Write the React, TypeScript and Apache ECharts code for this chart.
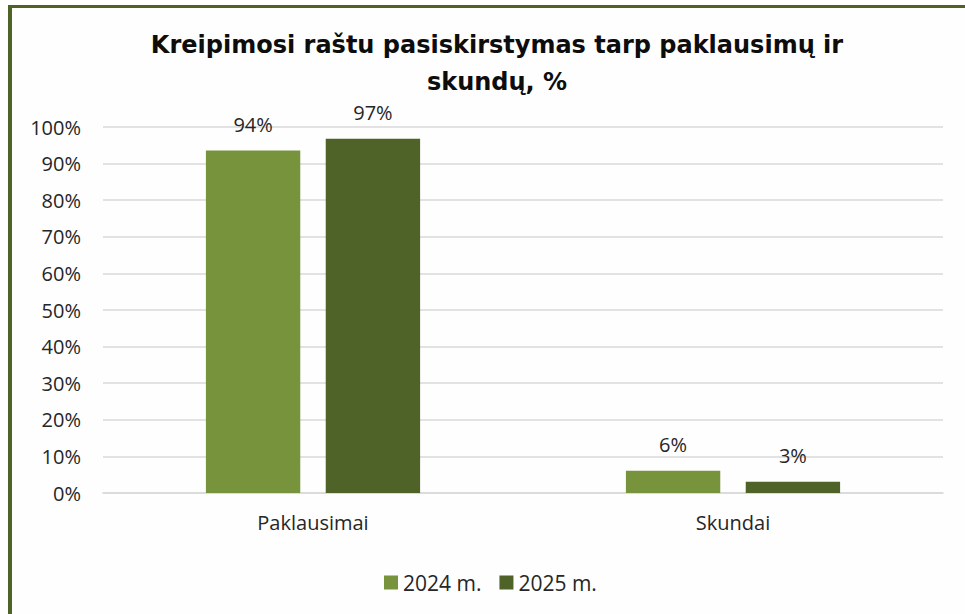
import React, { useEffect, useRef } from "react";
import * as echarts from "echarts";

const categories = ["Paklausimai", "Skundai"];
const series2024 = [93.6, 6.1];
const series2025 = [96.8, 3.1];
const seriesNames = ["2024 m.", "2025 m."];
const yTicks = [0, 10, 20, 30, 40, 50, 60, 70, 80, 90, 100];
const titleText = "Kreipimosi raštu pasiskirstymas tarp paklausimų ir\nskundų, %";

const C2024 = "#77933c";
const C2025 = "#4f6228";
const FONT = "'Open Sans', 'Noto Sans', sans-serif";

export default function App() {
  const ref = useRef<HTMLDivElement>(null);
  useEffect(() => {
    if (!ref.current) return;
    const chart = echarts.init(ref.current, null, { renderer: "svg" });
    const label = {
      show: true,
      position: "top",
      distance: 16,
      formatter: (p: any) => Math.round(p.value) + "%",
      fontFamily: FONT,
      fontSize: 20,
      color: "#262626",
    };
    chart.setOption({
      animation: false,
      backgroundColor: "transparent",
      title: {
        text: titleText,
        left: 492,
        textAlign: "center",
        top: 21,
        textStyle: {
          fontFamily: "'DejaVu Sans', sans-serif",
          fontWeight: "bold",
          fontSize: 24,
          lineHeight: 37,
          color: "#0d0d0d",
        },
      },
      legend: {
        data: seriesNames,
        left: 379,
        top: 567,
        itemWidth: 14,
        itemHeight: 14,
        itemGap: 18,
        icon: "rect",
        textStyle: { fontFamily: FONT, fontSize: 21, color: "#262626" },
      },
      grid: { left: 103, right: 22, top: 127, bottom: 121, containLabel: false },
      xAxis: {
        type: "category",
        data: categories,
        axisLine: { show: true, lineStyle: { color: "#d9d9d9", width: 1.5 } },
        axisTick: { show: false },
        axisLabel: { margin: 19, fontFamily: FONT, fontSize: 20, color: "#262626" },
      },
      yAxis: {
        type: "value",
        min: 0,
        max: 100,
        interval: 10,
        axisLine: { show: false },
        axisTick: { show: false },
        splitLine: { lineStyle: { color: "#d9d9d9", width: 1.5 } },
        axisLabel: {
          margin: 22,
          fontFamily: FONT,
          fontSize: 20,
          color: "#262626",
          formatter: (v: number) => (yTicks.includes(v) ? v + "%" : ""),
        },
      },
      series: [
        {
          name: seriesNames[0],
          type: "bar",
          data: series2024,
          barGap: "27%",
          barCategoryGap: "49%",
          itemStyle: { color: C2024 },
          label,
        },
        {
          name: seriesNames[1],
          type: "bar",
          data: series2025,
          itemStyle: { color: C2025 },
          label,
        },
      ],
    });
    return () => chart.dispose();
  }, []);
  return (
    <div style={{ position: "fixed", left: 0, top: 0, width: 965, height: 614, background: "#fff", overflow: "hidden" }}>
      <div
        style={{
          position: "absolute",
          left: 8,
          top: 5,
          width: 965,
          height: 607,
          borderTop: "3px solid #4f6228",
          borderLeft: "4px solid #4f6228",
          borderBottom: "2px solid #eeeeee",
          background: "#fefefe",
        }}
      />
      <div ref={ref} style={{ position: "absolute", left: 0, top: 0, width: 965, height: 614 }} />
    </div>
  );
}
